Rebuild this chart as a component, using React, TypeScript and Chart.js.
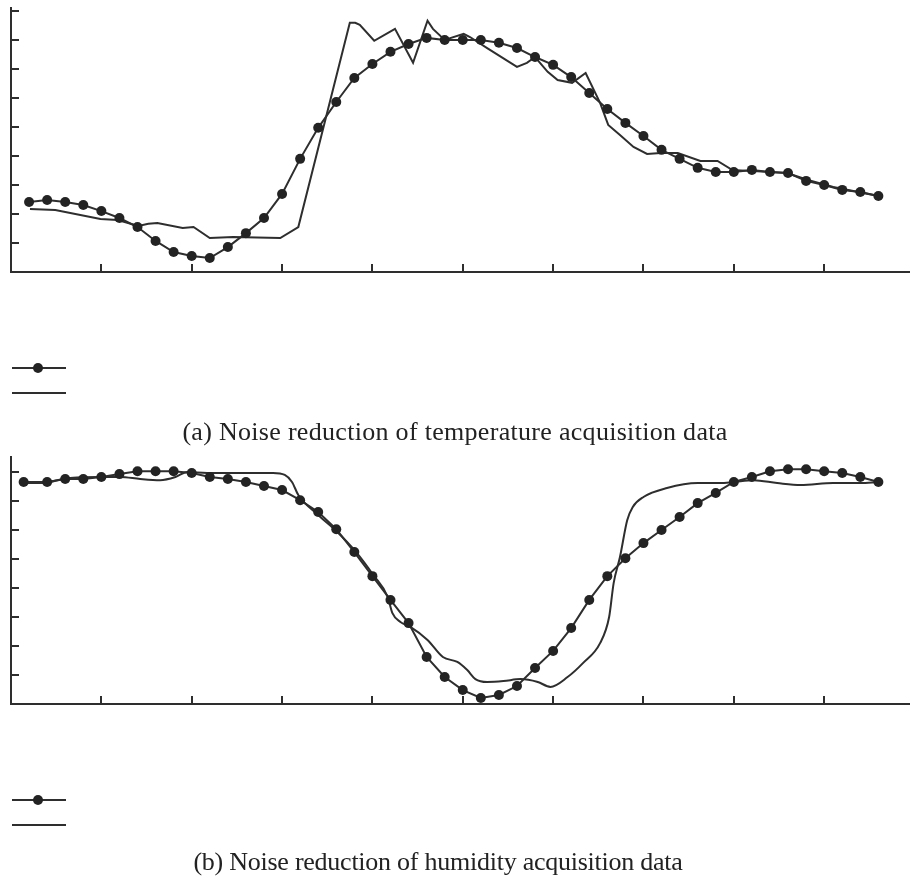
import React, { useEffect, useRef } from "react";
import { Chart, registerables } from "chart.js";

Chart.register(...registerables);

// ---------- data (a) temperature ----------
const tempSmoothX = [0.2, 0.4, 0.6, 0.8, 1.0, 1.2, 1.4, 1.6, 1.8, 2.0, 2.2, 2.4, 2.6, 2.8, 3.0, 3.2, 3.4, 3.6, 3.8, 4.0, 4.2, 4.4, 4.6, 4.8, 5.0, 5.2, 5.4, 5.6, 5.8, 6.0, 6.2, 6.4, 6.6, 6.8, 7.0, 7.2, 7.4, 7.6, 7.8, 8.0, 8.2, 8.4, 8.6, 8.8, 9.0, 9.2, 9.4, 9.6];
const tempSmoothY = [2.41, 2.48, 2.41, 2.31, 2.10, 1.86, 1.55, 1.07, 0.69, 0.55, 0.48, 0.86, 1.34, 1.86, 2.69, 3.90, 4.97, 5.86, 6.69, 7.17, 7.59, 7.86, 8.07, 8.0, 8.0, 8.0, 7.90, 7.72, 7.41, 7.14, 6.72, 6.17, 5.62, 5.14, 4.69, 4.21, 3.90, 3.59, 3.45, 3.45, 3.52, 3.45, 3.41, 3.14, 3.0, 2.83, 2.76, 2.62];
const tempRawX = [0.21, 0.49, 0.99, 1.18, 1.41, 1.52, 1.62, 1.90, 2.02, 2.20, 2.46, 2.98, 3.18, 3.75, 3.81, 3.86, 4.02, 4.25, 4.45, 4.61, 4.67, 4.80, 5.01, 5.08, 5.27, 5.60, 5.71, 5.80, 5.94, 6.05, 6.21, 6.36, 6.52, 6.61, 6.74, 6.89, 7.04, 7.19, 7.38, 7.63, 7.82, 7.98, 8.59, 8.82, 9.10, 9.60];
const tempRawY = [2.17, 2.14, 1.83, 1.79, 1.59, 1.66, 1.69, 1.52, 1.55, 1.17, 1.21, 1.17, 1.55, 8.59, 8.59, 8.52, 7.97, 8.38, 7.21, 8.66, 8.38, 8.0, 8.21, 8.10, 7.72, 7.07, 7.21, 7.41, 6.90, 6.62, 6.52, 6.86, 5.83, 5.07, 4.72, 4.31, 4.07, 4.10, 4.10, 3.83, 3.83, 3.52, 3.41, 3.17, 2.93, 2.62];

// ---------- data (b) humidity ----------
const humSmoothX = [0.14, 0.4, 0.6, 0.8, 1.0, 1.2, 1.4, 1.6, 1.8, 2.0, 2.2, 2.4, 2.6, 2.8, 3.0, 3.2, 3.4, 3.6, 3.8, 4.0, 4.2, 4.4, 4.6, 4.8, 5.0, 5.2, 5.4, 5.6, 5.8, 6.0, 6.2, 6.4, 6.6, 6.8, 7.0, 7.2, 7.4, 7.6, 7.8, 8.0, 8.2, 8.4, 8.6, 8.8, 9.0, 9.2, 9.4, 9.6];
const humSmoothY = [7.66, 7.66, 7.76, 7.76, 7.83, 7.93, 8.03, 8.03, 8.03, 7.97, 7.83, 7.76, 7.66, 7.52, 7.38, 7.03, 6.62, 6.03, 5.24, 4.41, 3.59, 2.79, 1.62, 0.93, 0.48, 0.21, 0.31, 0.62, 1.24, 1.83, 2.62, 3.59, 4.41, 5.03, 5.55, 6.0, 6.45, 6.93, 7.28, 7.66, 7.83, 8.03, 8.10, 8.10, 8.03, 7.97, 7.83, 7.66];
const humRawX = [0.14, 0.35, 0.62, 0.99, 1.21, 1.43, 1.65, 1.82, 1.95, 2.17, 2.46, 2.68, 2.90, 3.03, 3.11, 3.18, 3.40, 3.60, 3.82, 4.01, 4.17, 4.22, 4.31, 4.42, 4.61, 4.78, 4.94, 5.05, 5.14, 5.27, 5.45, 5.64, 5.83, 5.97, 6.16, 6.33, 6.52, 6.62, 6.67, 6.74, 6.82, 6.88, 7.00, 7.26, 7.60, 7.85, 8.0, 8.22, 8.48, 8.74, 9.10, 9.40, 9.60];
const humRawY = [7.62, 7.62, 7.79, 7.83, 7.83, 7.76, 7.72, 7.83, 8.0, 7.97, 7.97, 7.97, 7.97, 7.90, 7.66, 7.21, 6.52, 5.97, 5.24, 4.45, 3.69, 3.14, 2.83, 2.66, 2.21, 1.62, 1.45, 1.17, 0.86, 0.76, 0.79, 0.86, 0.76, 0.59, 0.93, 1.41, 2.10, 3.0, 4.17, 5.07, 6.34, 6.79, 7.14, 7.45, 7.62, 7.62, 7.66, 7.72, 7.62, 7.55, 7.62, 7.62, 7.66];

const xTickValues = [1, 2, 3, 4, 5, 6, 7, 8, 9];
const tempYTickValues = [1, 2, 3, 4, 5, 6, 7, 8, 9];
const humYTickValues = [1, 2, 3, 4, 5, 6, 7, 8];

const captionA = "(a) Noise reduction of temperature acquisition data";
const captionB = "(b) Noise reduction of humidity acquisition data";

const INK = "#2e2e2e";

function toPoints(xs: number[], ys: number[]) {
  return xs.map((x, i) => ({ x, y: ys[i] }));
}

const tickAndLegendPlugin = {
  id: "tickAndLegend",
  afterDraw(chart: any, _args: any, opts: any) {
    const ctx = chart.ctx;
    const xs = chart.scales.x;
    const ys = chart.scales.y;
    const area = chart.chartArea;
    ctx.save();
    ctx.strokeStyle = INK;
    ctx.lineWidth = 2;
    ctx.beginPath();
    (opts.xTicks as number[]).forEach((v) => {
      const px = Math.round(xs.getPixelForValue(v));
      ctx.moveTo(px, area.bottom);
      ctx.lineTo(px, area.bottom - 8);
    });
    (opts.yTicks as number[]).forEach((v) => {
      const py = Math.round(ys.getPixelForValue(v));
      ctx.moveTo(area.left, py);
      ctx.lineTo(area.left + 8, py);
    });
    ctx.stroke();

    // legend samples (no text in the reference)
    const lx1 = 12;
    const lx2 = 66;
    const rows = [area.bottom + 96, area.bottom + 121];
    chart.data.datasets.forEach((ds: any, i: number) => {
      const y = rows[i];
      ctx.strokeStyle = ds.borderColor;
      ctx.lineWidth = ds.borderWidth;
      ctx.beginPath();
      ctx.moveTo(lx1, y);
      ctx.lineTo(lx2, y);
      ctx.stroke();
      if (ds.pointRadius > 0) {
        ctx.fillStyle = ds.pointBackgroundColor;
        ctx.beginPath();
        ctx.arc((lx1 + lx2) / 2 - 1, y, ds.pointRadius, 0, Math.PI * 2);
        ctx.fill();
      }
    });
    ctx.restore();
  },
};

function makeConfig(
  smooth: { x: number; y: number }[],
  raw: { x: number; y: number }[],
  yMax: number,
  yTicks: number[],
  padTop: number,
  padBottom: number,
  rawMode: "default" | "monotone"
): any {
  return {
    type: "line",
    data: {
      datasets: [
        {
          label: "",
          data: smooth,
          borderColor: INK,
          borderWidth: 2,
          pointRadius: 5,
          pointBackgroundColor: "#232323",
          pointBorderColor: "#232323",
          pointBorderWidth: 0,
          tension: 0,
          fill: false,
        },
        {
          label: "",
          data: raw,
          borderColor: INK,
          borderWidth: 2,
          pointRadius: 0,
          tension: rawMode === "monotone" ? 0.4 : 0,
          cubicInterpolationMode: rawMode,
          fill: false,
        },
      ],
    },
    options: {
      responsive: false,
      animation: false,
      events: [],
      layout: { autoPadding: false, padding: { left: 11, right: 0, top: padTop, bottom: padBottom } },
      plugins: {
        legend: { display: false },
        tooltip: { enabled: false },
        tickAndLegend: { xTicks: xTickValues, yTicks },
      },
      scales: {
        x: {
          type: "linear",
          min: 0,
          max: 9.95,
          ticks: { display: false, stepSize: 1, padding: 0 },
          grid: { display: false, drawTicks: false, tickLength: 0 },
          border: { display: true, color: INK, width: 2 },
        },
        y: {
          type: "linear",
          min: 0,
          max: yMax,
          ticks: { display: false, stepSize: 1, padding: 0 },
          grid: { display: false, drawTicks: false, tickLength: 0 },
          border: { display: true, color: INK, width: 2 },
        },
      },
    },
    plugins: [tickAndLegendPlugin],
  };
}

function Panel(props: { config: any; width: number; height: number; top: number }) {
  const ref = useRef<HTMLCanvasElement | null>(null);
  useEffect(() => {
    if (!ref.current) return;
    const chart = new Chart(ref.current, props.config);
    return () => chart.destroy();
  }, []);
  return (
    <canvas
      ref={ref}
      width={props.width}
      height={props.height}
      style={{ position: "absolute", left: 0, top: props.top, width: props.width, height: props.height }}
    />
  );
}

const captionStyle: React.CSSProperties = {
  position: "absolute",
  left: 0,
  width: 910,
  height: 28,
  lineHeight: "28px",
  textAlign: "center",
  fontFamily: '"Liberation Serif", "Times New Roman", serif',
  fontSize: 26,
  color: "#222",
  whiteSpace: "nowrap",
};

export default function App() {
  const configA = makeConfig(
    toPoints(tempSmoothX, tempSmoothY),
    toPoints(tempRawX, tempRawY),
    9.1,
    tempYTickValues,
    8,
    148,
    "default"
  );
  const configB = makeConfig(
    toPoints(humSmoothX, humSmoothY),
    toPoints(humRawX, humRawY),
    8.52,
    humYTickValues,
    11,
    142,
    "monotone"
  );
  return (
    <div style={{ position: "absolute", left: 0, top: 0, width: 910, height: 878, background: "#fff" }}>
      <Panel config={configA} width={910} height={420} top={0} />
      <div style={{ ...captionStyle, top: 418, letterSpacing: "0.3px" }}>{captionA}</div>
      <Panel config={configB} width={910} height={400} top={446} />
      <div style={{ ...captionStyle, top: 848, letterSpacing: "-0.25px", paddingLeft: 0, width: 876 }}>{captionB}</div>
    </div>
  );
}
